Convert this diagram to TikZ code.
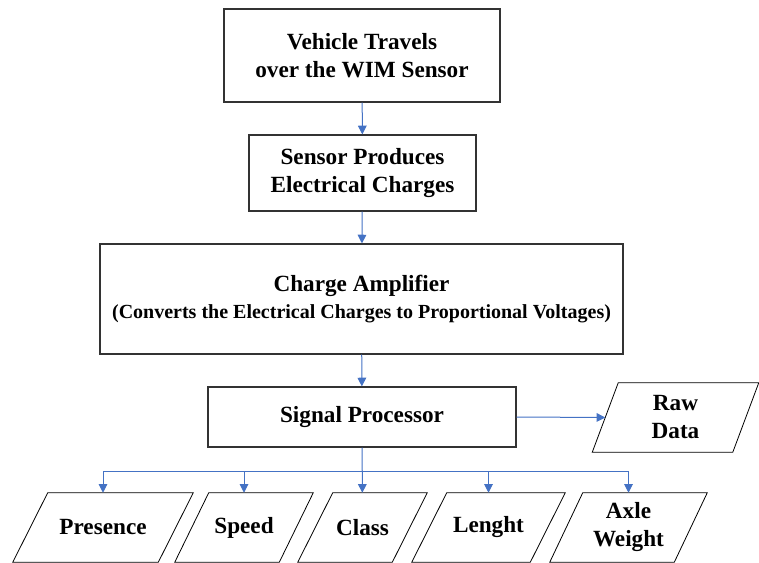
\documentclass[tikz,border=0pt]{standalone}
\usepackage{fontspec}
\setmainfont{Liberation Serif}[BoldFont={Liberation Serif Bold}]
\usetikzlibrary{arrows.meta,calc}
\newcommand\pgram[2]{\draw[pline] ($(#1.north west)+(#2,0)$) -- (#1.north east) -- ($(#1.south east)-(#2,0)$) -- (#1.south west) -- cycle;}
\tikzset{
  procbox/.style={draw=black!80, line width=0.9pt, inner sep=0pt, align=center,
    font=\fontsize{17.4pt}{21pt}\selectfont\bfseries},
  iobox/.style={draw=none, inner sep=0pt, align=center,
    font=\fontsize{17.4pt}{21pt}\selectfont\bfseries},
  pline/.style={draw=black, line width=0.6pt},
  flow/.style={draw={rgb,255:red,68;green,114;blue,196}, line width=0.75pt,
    -{Triangle[width=6.5pt,length=6.5pt]}},
  bus/.style={draw={rgb,255:red,68;green,114;blue,196}, line width=0.75pt},
}
\begin{document}
\begin{tikzpicture}[x=0.75pt,y=-0.75pt]
\useasboundingbox (0,0) rectangle (759,563);
\node[procbox, minimum width=207pt, minimum height=69.75pt] (veh) at (362,55.5)
  {Vehicle Travels\\over the WIM Sensor};
\node[procbox, minimum width=170.25pt, minimum height=57pt] (sen) at (362.5,173)
  {Sensor Produces\\Electrical Charges};
\node[procbox, minimum width=392.25pt, minimum height=82.5pt] (amp) at (361.5,299)
  {Charge Amplifier\\[-1pt]{\fontsize{15pt}{18pt}\selectfont (Converts the Electrical Charges to Proportional Voltages)}};
\node[procbox, minimum width=231pt, minimum height=45pt] (sp) at (362,417)
  {Signal Processor};
\node[iobox, minimum width=124.5pt, minimum height=51.75pt] (raw) at (675.5,417.5)
  {Raw\\Data};
\pgram{raw}{26}
\node[iobox, minimum width=135pt, minimum height=51.75pt] (pre) at (103,527.5) {Presence};
\node[iobox, minimum width=103.5pt, minimum height=51.75pt] (spd) at (244,527.5) {Speed};
\node[iobox, minimum width=96.75pt, minimum height=51.75pt] (cls) at (362.5,527.5) {Class};
\node[iobox, minimum width=114.75pt, minimum height=51.75pt] (len) at (488.5,527.5) {Lenght};
\node[iobox, minimum width=117.75pt, minimum height=51.75pt] (axl) at (628.5,527.5) {Axle\\Weight};
\pgram{pre}{35}
\pgram{spd}{34}
\pgram{cls}{35}
\pgram{len}{35}
\pgram{axl}{33}
\draw[flow] (veh) -- (sen);
\draw[flow] (sen) -- (amp);
\draw[flow] (amp) -- (sp);
\coordinate (rawin) at ($(raw.west)+(13,0)$);
\draw[flow] (sp.east) -- (rawin);
\coordinate (busl) at (pre.north |- 0,471);
\coordinate (busr) at (axl.north |- 0,471);
\draw[bus] (busl) -- (busr);
\draw[flow] (sp) -- (cls);
\draw[flow] (busl) -- (pre);
\draw[flow] (spd.north |- busl) -- (spd);
\draw[flow] (len.north |- busl) -- (len);
\draw[flow] (busr) -- (axl);
\end{tikzpicture}
\end{document}
